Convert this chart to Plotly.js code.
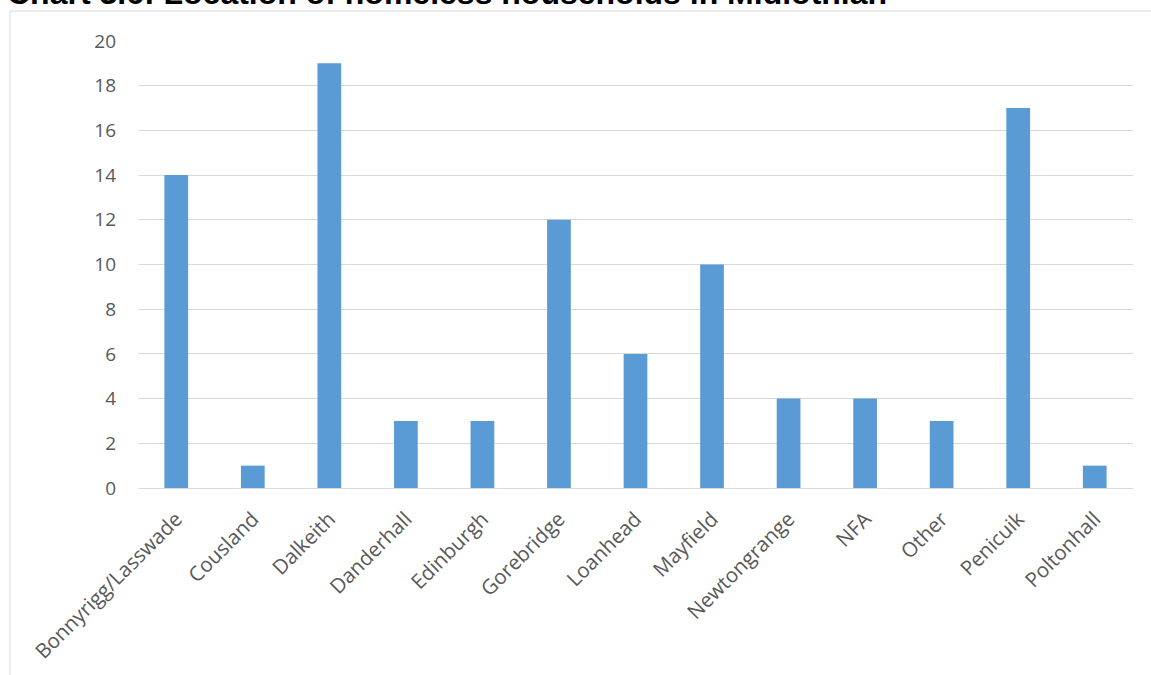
<!DOCTYPE html>
<html>
<head>
<meta charset="utf-8">
<script src="https://cdn.plot.ly/plotly-3.0.1.min.js"></script>
<style>
  html, body { margin: 0; padding: 0; background: #ffffff; }
  #chart { width: 1151px; height: 675px; }
</style>
</head>
<body>
<div id="chart"></div>
<script>
// Homeless households by location in Midlothian
const locations = [
  "Bonnyrigg/Lasswade", "Cousland", "Dalkeith", "Danderhall", "Edinburgh",
  "Gorebridge", "Loanhead", "Mayfield", "Newtongrange", "NFA", "Other",
  "Penicuik", "Poltonhall"
];
const households = [14, 1, 19, 3, 3, 12, 6, 10, 4, 4, 3, 17, 1];
const yTicks = [0, 2, 4, 6, 8, 10, 12, 14, 16, 18, 20];
const chartTitle = "Chart 3.6: Location of homeless households in Midlothian";

const yTickFont = { family: "Open Sans, sans-serif", size: 19, color: "#595959" };
const xTickFont = { family: "Open Sans, sans-serif", size: 20.5, color: "#595959" };

const trace = {
  type: "bar",
  x: locations,
  y: households,
  marker: { color: "#5b9bd5" },
  hoverinfo: "x+y"
};

const layout = {
  width: 1151,
  height: 675,
  margin: { l: 138, r: 18, t: 41, b: 187 },
  paper_bgcolor: "#ffffff",
  plot_bgcolor: "#ffffff",
  showlegend: false,
  bargap: 0.69,
  xaxis: {
    type: "category",
    tickangle: -45,
    tickfont: xTickFont,
    showgrid: false,
    showline: true,
    linecolor: "#d9d9d9",
    linewidth: 1,
    ticks: "",
    zeroline: false,
    ticklabelstandoff: 10
  },
  yaxis: {
    range: [0, 20],
    tickvals: yTicks,
    ticktext: yTicks.map(String),
    tickfont: yTickFont,
    showgrid: true,
    gridcolor: "#d9d9d9",
    gridwidth: 1,
    zeroline: false,
    showline: false,
    ticks: "",
    ticklabelstandoff: 21,
    fixedrange: true
  },
  // Chart heading sits at the very top edge of the page, above the framed area
  annotations: [
    {
      text: "<b>" + chartTitle + "</b>",
      font: { family: "Liberation Sans, Arial, sans-serif", size: 32, color: "#000000" },
      xref: "paper", yref: "paper",
      x: -0.134, xanchor: "left",
      y: 1.062, yanchor: "bottom",
      showarrow: false
    }
  ],
  shapes: [
    {
      type: "rect",
      xref: "paper", yref: "paper",
      x0: -0.1286, x1: 1.2,
      y0: -0.6, y1: 1.0671,
      line: { color: "#d9d9d9", width: 1 },
      fillcolor: "rgba(0,0,0,0)",
      layer: "below"
    }
  ]
};

Plotly.newPlot("chart", [trace], layout, { displayModeBar: false, staticPlot: true });
</script>
</body>
</html>
